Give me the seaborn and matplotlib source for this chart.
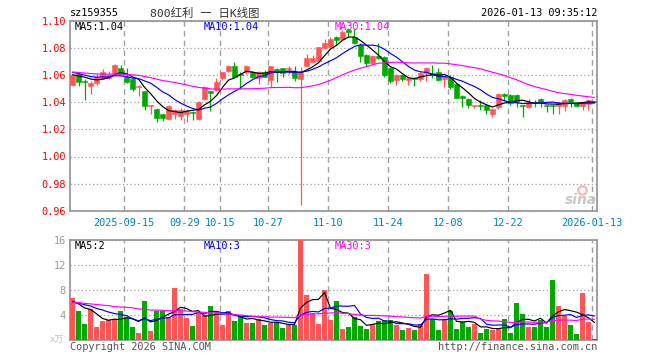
import numpy as np
import pandas as pd
import seaborn as sns
import matplotlib.pyplot as plt

# daily bars, 2025-09-02 .. 2026-01-13
open_ = [1.053, 1.061, 1.056, 1.052, 1.054, 1.058, 1.058, 1.0615, 1.065, 1.059,
         1.057, 1.051, 1.048, 1.0375, 1.035, 1.031, 1.028, 1.031, 1.030, 1.031,
         1.033, 1.028, 1.0425, 1.048, 1.049, 1.058, 1.063, 1.0665, 1.0605, 1.062,
         1.0625, 1.058, 1.062, 1.0565, 1.0645, 1.065, 1.0645, 1.062, 1.057, 1.067,
         1.070, 1.0705, 1.080, 1.0805, 1.0885, 1.087, 1.0935, 1.0885, 1.0825, 1.075,
         1.069, 1.074, 1.0735, 1.065, 1.0565, 1.060, 1.0565, 1.058, 1.0575, 1.0615,
         1.0615, 1.0625, 1.057, 1.059, 1.0535, 1.045, 1.0425, 1.037, 1.038, 1.038,
         1.031, 1.0365, 1.0455, 1.0455, 1.0455, 1.038, 1.0365, 1.040, 1.0425, 1.0375,
         1.0375, 1.0375, 1.0375, 1.0425, 1.040, 1.0375, 1.0385, 1.0405]
close = [1.060, 1.055, 1.055, 1.054, 1.059, 1.062, 1.060, 1.0675, 1.061, 1.055,
         1.050, 1.052, 1.0375, 1.038, 1.0285, 1.0285, 1.037, 1.034, 1.034, 1.0335,
         1.032, 1.040, 1.051, 1.047, 1.055, 1.062, 1.067, 1.059, 1.060, 1.0665,
         1.059, 1.0625, 1.059, 1.0665, 1.063, 1.0615, 1.065, 1.058, 1.062, 1.0725,
         1.073, 1.0805, 1.0835, 1.087, 1.086, 1.092, 1.092, 1.084, 1.074, 1.069,
         1.074, 1.073, 1.060, 1.0555, 1.060, 1.057, 1.058, 1.057, 1.0615, 1.065,
         1.0605, 1.0565, 1.059, 1.051, 1.0435, 1.0435, 1.038, 1.038, 1.0375, 1.034,
         1.035, 1.046, 1.045, 1.0395, 1.040, 1.0375, 1.040, 1.0395, 1.040, 1.037,
         1.037, 1.0395, 1.042, 1.040, 1.0375, 1.040, 1.042, 1.040]
high = [1.061, 1.062, 1.057, 1.056, 1.061, 1.0645, 1.063, 1.068, 1.0675, 1.0655,
        1.058, 1.053, 1.0485, 1.038, 1.0355, 1.031, 1.038, 1.035, 1.0355, 1.035,
        1.0335, 1.041, 1.052, 1.048, 1.058, 1.0625, 1.0675, 1.070, 1.062, 1.0675,
        1.063, 1.063, 1.0635, 1.067, 1.065, 1.0655, 1.067, 1.0665, 1.066, 1.0755,
        1.075, 1.081, 1.087, 1.088, 1.089, 1.093, 1.095, 1.094, 1.0835, 1.0755,
        1.075, 1.084, 1.074, 1.066, 1.061, 1.061, 1.059, 1.0585, 1.062, 1.066,
        1.0675, 1.065, 1.0595, 1.0605, 1.054, 1.0455, 1.043, 1.038, 1.042, 1.0385,
        1.0355, 1.047, 1.0465, 1.046, 1.046, 1.038, 1.0425, 1.042, 1.0435, 1.038,
        1.038, 1.040, 1.0425, 1.043, 1.0405, 1.040, 1.0425, 1.041]
low = [1.052, 1.052, 1.042, 1.046, 1.053, 1.057, 1.057, 1.061, 1.0605, 1.054,
       1.048, 1.045, 1.034, 1.031, 1.0255, 1.026, 1.027, 1.0275, 1.027, 1.0255,
       1.027, 1.027, 1.042, 1.0335, 1.048, 1.0565, 1.0625, 1.058, 1.050, 1.061,
       1.058, 1.0535, 1.0585, 1.0515, 1.055, 1.059, 1.061, 1.0555, 0.964, 1.0665,
       1.069, 1.070, 1.079, 1.080, 1.0825, 1.086, 1.088, 1.083, 1.070, 1.0665,
       1.068, 1.072, 1.059, 1.054, 1.053, 1.056, 1.053, 1.052, 1.056, 1.056,
       1.058, 1.0555, 1.051, 1.050, 1.043, 1.0365, 1.036, 1.0355, 1.034, 1.031,
       1.029, 1.035, 1.041, 1.038, 1.0365, 1.0295, 1.036, 1.0365, 1.0365, 1.033,
       1.0315, 1.0315, 1.0335, 1.0365, 1.0365, 1.0345, 1.0345, 1.0395]
volume = [6.8, 4.6, 2.6, 4.9, 2.1, 3.0, 3.25, 3.4, 4.7, 3.5,
          2.1, 1.1, 6.3, 1.5, 4.6, 4.6, 3.7, 8.3, 5.0, 3.6,
          2.3, 4.3, 3.9, 5.5, 4.6, 2.4, 4.6, 3.1, 3.9, 2.8,
          2.8, 3.4, 2.4, 2.8, 2.8, 2.0, 2.4, 2.4, 16.0, 7.2,
          4.3, 2.6, 8.0, 3.25, 6.3, 1.8, 2.1, 3.7, 2.3, 1.8,
          2.6, 3.1, 3.25, 3.25, 2.4, 1.6, 2.0, 1.6, 2.6, 10.6,
          3.4, 1.6, 3.4, 4.7, 1.8, 2.9, 2.1, 2.6, 1.1, 1.8,
          1.6, 2.0, 3.4, 1.1, 5.85, 4.1, 2.1, 2.1, 3.25, 2.1,
          9.6, 5.5, 3.9, 2.4, 0.9, 7.6, 2.9, 0.2]

# bars before the visible window, only used to seed the moving averages
prior_close = [1.066, 1.067, 1.065, 1.068, 1.066, 1.064, 1.062, 1.063, 1.061, 1.060,
               1.062, 1.064, 1.063, 1.061, 1.060, 1.058, 1.057, 1.059, 1.061, 1.063,
               1.064, 1.066, 1.065, 1.063, 1.061, 1.060, 1.059, 1.061, 1.062]
prior_volume = [5.2, 6.8, 7.5, 4.9, 6.1, 5.5, 8.2, 6.4, 5.0, 4.7,
                6.9, 7.1, 5.8, 4.6, 5.3, 6.2, 7.4, 5.9, 4.8, 5.6,
                6.3, 5.1, 7.0, 6.0, 5.4, 6.6, 5.8, 6.2, 5.5]

tick_pos = [9, 19, 25, 33, 43, 53, 63, 73, 87]
tick_labels = ['2025-09-15', '09-29', '10-15', '10-27', '11-10',
               '11-24', '12-08', '12-22', '2026-01-13']

RED, GREEN = '#ff5555', '#00a800'
MA_COLORS = {5: 'black', 10: '#0000ff', 30: '#ff00ff'}
GRAY = '#a0a0a0'

n = len(close)
df = pd.DataFrame({'idx': np.arange(n), 'open': open_, 'high': high,
                   'low': low, 'close': close, 'volume': volume})
df['dir'] = np.where(df['close'] >= df['open'], 'up', 'down')
full_c = pd.Series(prior_close + close)
full_v = pd.Series(prior_volume + volume)
for w in (5, 10, 30):
    df[f'ma{w}'] = full_c.rolling(w).mean().iloc[-n:].values
    df[f'vma{w}'] = full_v.rolling(w).mean().iloc[-n:].values

sns.set_style('white')
plt.rcParams['font.family'] = ['DejaVu Sans Mono', 'Noto Sans CJK SC']

W, H = 660, 360
fig = plt.figure(figsize=(W / 100, H / 100), dpi=100)

def box(l, t, r, b):
    return [l / W, 1 - b / H, (r - l) / W, (b - t) / H]

ax_p = fig.add_axes(box(70, 21, 597, 210.7))
ax_v = fig.add_axes(box(70, 240, 597, 340))

xlim = (-2.5 / 6, (597 - 72.5) / 6)
grid_x = np.array(tick_pos) - 0.37

# candles
colors = np.where(df['dir'] == 'up', RED, GREEN)
ax_p.vlines(df['idx'], df['low'], df['high'], colors=colors, lw=0.9, zorder=3)
body_lo = np.minimum(df['open'], df['close'])
body_h = np.maximum((df['close'] - df['open']).abs(), 0.0008)
ax_p.bar(df['idx'], body_h, bottom=body_lo, width=0.72, color=colors,
         edgecolor=colors, lw=0.4, zorder=4)
for w in (5, 10, 30):
    sns.lineplot(data=df, x='idx', y=f'ma{w}', color=MA_COLORS[w], lw=0.85,
                 ax=ax_p, zorder=5)

# volume
ax_v.bar(df['idx'], df['volume'], width=0.84, color=colors, lw=0, zorder=3)
for w in (5, 10, 30):
    sns.lineplot(data=df, x='idx', y=f'vma{w}', color=MA_COLORS[w], lw=0.85,
                 ax=ax_v, zorder=5)

ax_p.set_ylim(0.96, 1.10)
ax_p.set_yticks(np.arange(0.96, 1.101, 0.02))
ax_p.yaxis.set_major_formatter(plt.FormatStrFormatter('%.2f'))
ax_p.set_xticks(grid_x, tick_labels)
ax_p.tick_params(axis='y', colors='#ff0000', labelsize=7.4, length=0, pad=3)
ax_p.tick_params(axis='x', colors='#0080c8', labelsize=7.4, length=0, pad=5)

ax_v.set_ylim(0, 16)
ax_v.set_yticks([4, 8, 12, 16])
ax_v.set_xticks(grid_x, [''] * len(grid_x))
ax_v.tick_params(axis='y', colors='#999999', labelsize=7.4, length=0, pad=3)
ax_v.tick_params(axis='x', length=0)

for ax in (ax_p, ax_v):
    ax.set_xlim(*xlim)
    ax.set_xlabel('')
    ax.set_ylabel('')
    ax.grid(axis='y', color=GRAY, ls=(0, (1, 2)), lw=0.9)
    ax.grid(axis='x', color=GRAY, ls=(0, (4, 3)), lw=1)
    ax.set_axisbelow(True)
    for s in ax.spines.values():
        s.set_color('#999999')
        s.set_linewidth(1.3)

def ftext(x, y, s, size=7.4, **kw):
    fig.text(x / W, 1 - y / H, s, va='center', fontsize=size, **kw)

ftext(70, 13, 'sz159355', color='black')
ftext(150, 13, '800红利 一 日K线图', color='#333333', size=8.2)
ftext(597, 13, '2026-01-13 09:35:12', color='black', ha='right')
ftext(75, 27, 'MA5:1.04', color=MA_COLORS[5])
ftext(204, 27, 'MA10:1.04', color=MA_COLORS[10])
ftext(335, 27, 'MA30:1.04', color=MA_COLORS[30])
ftext(75, 246, 'MA5:2', color=MA_COLORS[5])
ftext(204, 246, 'MA10:3', color=MA_COLORS[10])
ftext(335, 246, 'MA30:3', color=MA_COLORS[30])
ftext(70, 347, 'Copyright 2026 SINA.COM', color='#555555')
ftext(597, 347, 'http://finance.sina.com.cn', color='#555555', ha='right')
ftext(50, 340, 'x万', color='#c0c0c0', size=6.5)

# sina watermark
ax_p.plot([582 / W], [1 - 190 / H], 'o', transform=fig.transFigure, ms=6,
          mfc='none', mec='#f4b8b8', mew=1.6, zorder=6, clip_on=False)
fig.text(581 / W, 1 - 200 / H, 'sina', color='#c8c8c8', fontsize=10,
         fontstyle='italic', fontweight='bold', family='DejaVu Sans',
         ha='center', va='center')

fig.savefig('out.png', dpi=100)
